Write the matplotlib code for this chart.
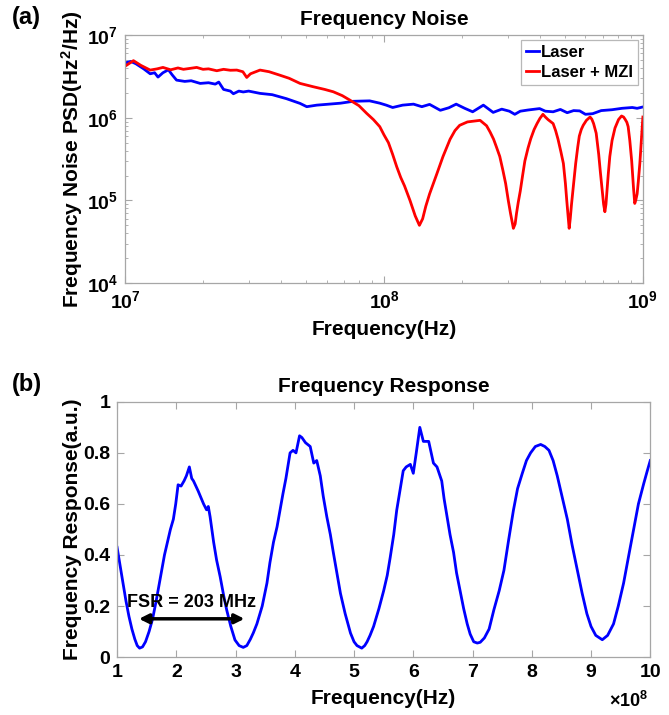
import matplotlib
matplotlib.use("Agg")
import matplotlib.pyplot as plt
from matplotlib.ticker import LogLocator, FixedLocator

plt.rcParams['font.family'] = ['Liberation Sans', 'DejaVu Sans']
plt.rcParams['font.weight'] = 'bold'
plt.rcParams['mathtext.fontset'] = 'custom'
plt.rcParams['mathtext.rm'] = 'Liberation Sans:bold'
plt.rcParams['mathtext.bf'] = 'Liberation Sans:bold'
plt.rcParams['mathtext.it'] = 'Liberation Sans:bold'
plt.rcParams['mathtext.default'] = 'bf'

# ---------------- (a) Frequency noise ----------------
laser_f = [1.0e7, 1.05e7, 1.1e7, 1.18e7, 1.25e7, 1.3e7, 1.34e7, 1.4e7, 1.47e7, 1.52e7,
           1.58e7, 1.7e7, 1.8e7, 1.95e7, 2.1e7, 2.23e7, 2.3e7, 2.4e7, 2.55e7, 2.62e7,
           2.75e7, 2.86e7, 3.0e7, 3.32e7, 3.7e7, 4.2e7, 4.74e7, 5.03e7, 5.5e7, 5.97e7,
           6.8e7, 7.6e7, 8.8e7, 9.63e7, 1.02e8, 1.08e8, 1.18e8, 1.3e8, 1.4e8, 1.5e8,
           1.65e8, 1.78e8, 1.9e8, 2.05e8, 2.2e8, 2.42e8, 2.64e8, 2.85e8, 3.05e8, 3.2e8,
           3.36e8, 3.6e8, 3.99e8, 4.2e8, 4.5e8, 4.8e8, 5.1e8, 5.4e8, 5.7e8, 6.0e8,
           6.4e8, 6.9e8, 7.6e8, 8.3e8, 9.1e8, 9.5e8, 1.0e9]
laser_psd = [4.6e6, 4.8e6, 4.5e6, 3.9e6, 3.4e6, 3.5e6, 3.1e6, 3.5e6, 3.8e6, 3.3e6,
             2.85e6, 2.75e6, 2.8e6, 2.6e6, 2.65e6, 2.55e6, 2.7e6, 2.2e6, 2.1e6, 1.95e6,
             2.1e6, 2.05e6, 2.1e6, 1.97e6, 1.9e6, 1.7e6, 1.49e6, 1.36e6, 1.42e6, 1.45e6,
             1.5e6, 1.58e6, 1.6e6, 1.5e6, 1.42e6, 1.33e6, 1.42e6, 1.46e6, 1.36e6, 1.45e6,
             1.23e6, 1.32e6, 1.46e6, 1.3e6, 1.18e6, 1.42e6, 1.16e6, 1.27e6, 1.2e6, 1.1e6,
             1.2e6, 1.24e6, 1.29e6, 1.2e6, 1.18e6, 1.26e6, 1.15e6, 1.22e6, 1.21e6, 1.1e6,
             1.12e6, 1.22e6, 1.25e6, 1.3e6, 1.33e6, 1.3e6, 1.35e6]

mzi_f = [1.0e7, 1.077e7, 1.15e7, 1.25e7, 1.33e7, 1.4e7, 1.5e7, 1.6e7, 1.68e7, 1.78e7,
         1.89e7, 2.0e7, 2.1e7, 2.26e7, 2.4e7, 2.55e7, 2.7e7, 2.85e7, 2.95e7, 3.05e7,
         3.32e7, 3.6e7, 3.96e7, 4.3e7, 4.74e7, 5.33e7, 5.9e7, 6.37e7, 6.9e7, 7.39e7,
         8.0e7, 8.57e7, 9.1e7, 9.63e7, 1.0e8, 1.04e8, 1.08e8, 1.12e8, 1.16e8, 1.2e8,
         1.26e8, 1.32e8, 1.37e8, 1.41e8, 1.45e8, 1.5e8, 1.6e8, 1.69e8, 1.8e8, 1.88e8,
         1.96e8, 2.1e8, 2.35e8, 2.49e8, 2.57e8, 2.65e8, 2.72e8, 2.8e8, 2.88e8, 2.95e8,
         3.02e8, 3.08e8, 3.16e8, 3.21e8, 3.25e8, 3.3e8, 3.36e8, 3.43e8, 3.5e8, 3.6e8,
         3.69e8, 3.8e8, 3.9e8, 4.0e8, 4.11e8, 4.2e8, 4.3e8, 4.5e8, 4.6e8, 4.7e8,
         4.82e8, 4.93e8, 5.02e8, 5.08e8, 5.14e8, 5.19e8, 5.24e8, 5.3e8, 5.4e8, 5.5e8,
         5.6e8, 5.68e8, 5.78e8, 5.88e8, 6.05e8, 6.25e8, 6.35e8, 6.45e8, 6.6e8, 6.75e8,
         6.85e8, 6.95e8, 7.05e8, 7.13e8, 7.2e8, 7.25e8, 7.35e8, 7.45e8, 7.6e8, 7.8e8,
         8.05e8, 8.27e8, 8.42e8, 8.55e8, 8.67e8, 8.77e8, 8.9e8, 9.05e8, 9.2e8, 9.3e8,
         9.38e8, 9.5e8, 9.6e8, 9.73e8, 9.87e8, 1.0e9]
mzi_psd = [4.2e6, 4.9e6, 4.3e6, 3.77e6, 3.9e6, 4.06e6, 3.8e6, 4.0e6, 3.85e6, 3.95e6,
           4.06e6, 3.85e6, 3.9e6, 3.7e6, 3.85e6, 3.75e6, 3.77e6, 3.6e6, 3.07e6, 3.4e6,
           3.77e6, 3.6e6, 3.27e6, 3.0e6, 2.6e6, 2.37e6, 2.2e6, 2.06e6, 1.85e6, 1.63e6,
           1.4e6, 1.13e6, 9.5e5, 7.8e5, 6.2e5, 5.0e5, 3.6e5, 2.55e5, 1.9e5, 1.5e5,
           1.0e5, 6.5e4, 5.0e4, 6.0e4, 8.5e4, 1.2e5, 2.1e5, 3.4e5, 5.5e5, 7.0e5,
           8.1e5, 8.9e5, 9.3e5, 8.0e5, 6.7e5, 5.5e5, 4.4e5, 3.4e5, 2.3e5, 1.6e5,
           1.0e5, 7.0e4, 4.6e4, 5.2e4, 7.0e4, 9.5e4, 1.3e5, 2.0e5, 3.0e5, 4.3e5,
           5.6e5, 7.2e5, 8.5e5, 9.8e5, 1.1e6, 1.02e6, 9.5e5, 8.5e5, 7.0e5, 5.5e5,
           3.9e5, 2.8e5, 1.6e5, 1.0e5, 6.5e4, 4.6e4, 6.0e4, 9.0e4, 1.6e5, 2.8e5,
           4.4e5, 6.0e5, 7.2e5, 8.1e5, 9.3e5, 1.02e6, 9.6e5, 8.5e5, 6.5e5, 3.6e5,
           2.2e5, 1.4e5, 9.0e4, 7.3e4, 9.0e4, 1.2e5, 2.1e5, 3.4e5, 5.3e5, 7.5e5,
           9.5e5, 1.05e6, 1.02e6, 9.5e5, 8.8e5, 7.8e5, 5.3e5, 3.0e5, 1.4e5, 9.2e4,
           1.0e5, 1.2e5, 1.7e5, 2.8e5, 5.5e5, 1.02e6]

# ---------------- (b) Frequency response ----------------
resp_f = [1.0, 1.05, 1.1, 1.15, 1.2, 1.25, 1.3, 1.34, 1.38, 1.43,
          1.48, 1.54, 1.6, 1.66, 1.73, 1.8, 1.86, 1.9, 1.95, 1.99,
          2.03, 2.08, 2.13, 2.17, 2.22, 2.26, 2.29, 2.37, 2.46, 2.51,
          2.54, 2.57, 2.6, 2.63, 2.68, 2.74, 2.8, 2.85, 2.92, 2.99,
          3.06, 3.13, 3.19, 3.25, 3.3, 3.36, 3.45, 3.53, 3.58, 3.64,
          3.7, 3.75, 3.8, 3.85, 3.9, 3.92, 3.97, 4.02, 4.08, 4.12,
          4.18, 4.26, 4.32, 4.37, 4.43, 4.48, 4.54, 4.6, 4.65, 4.71,
          4.77, 4.85, 4.94, 5.0, 5.05, 5.13, 5.18, 5.22, 5.27, 5.33,
          5.42, 5.50, 5.56, 5.61, 5.67, 5.72, 5.78, 5.83, 5.88, 5.95,
          6.0, 6.05, 6.11, 6.17, 6.26, 6.34, 6.40, 6.48, 6.52, 6.57,
          6.62, 6.68, 6.73, 6.79, 6.85, 6.91, 6.96, 7.02, 7.08, 7.13,
          7.2, 7.28, 7.36, 7.45, 7.53, 7.61, 7.69, 7.76, 7.84, 7.91,
          7.98, 8.06, 8.15, 8.22, 8.29, 8.36, 8.43, 8.51, 8.60, 8.68,
          8.77, 8.85, 8.93, 9.0, 9.08, 9.19, 9.28, 9.38, 9.46, 9.55,
          9.63, 9.72, 9.8, 9.89, 9.95, 10.0]
resp_val = [0.43, 0.36, 0.29, 0.22, 0.16, 0.11, 0.07, 0.045, 0.035, 0.04,
            0.06, 0.10, 0.15, 0.22, 0.31, 0.40, 0.46, 0.50, 0.54, 0.60,
            0.675, 0.67, 0.69, 0.71, 0.745, 0.70, 0.69, 0.65, 0.60, 0.577,
            0.59, 0.55, 0.50, 0.45, 0.38, 0.315, 0.24, 0.185, 0.12, 0.067,
            0.045, 0.038, 0.045, 0.07, 0.095, 0.13, 0.20, 0.29, 0.37, 0.45,
            0.51, 0.575, 0.64, 0.70, 0.77, 0.80, 0.81, 0.80, 0.867, 0.86,
            0.84, 0.825, 0.76, 0.77, 0.71, 0.63, 0.55, 0.48, 0.41, 0.33,
            0.25, 0.17, 0.094, 0.06, 0.045, 0.035, 0.045, 0.06, 0.085, 0.12,
            0.19, 0.26, 0.32, 0.39, 0.48, 0.575, 0.66, 0.73, 0.745, 0.755,
            0.72, 0.80, 0.90, 0.845, 0.845, 0.76, 0.745, 0.69, 0.62, 0.55,
            0.48, 0.41, 0.33, 0.26, 0.19, 0.13, 0.09, 0.06, 0.055, 0.058,
            0.075, 0.11, 0.185, 0.26, 0.34, 0.46, 0.575, 0.66, 0.72, 0.77,
            0.80, 0.825, 0.833, 0.825, 0.81, 0.77, 0.71, 0.63, 0.54, 0.44,
            0.34, 0.25, 0.17, 0.12, 0.085, 0.068, 0.085, 0.13, 0.20, 0.29,
            0.39, 0.50, 0.60, 0.68, 0.73, 0.77]

fsr_start, fsr_end, fsr_level = 1.37, 3.15, 0.15
fsr_label = "FSR = 203 MHz"

frame_col = '#a6a6a6'
fig = plt.figure(figsize=(6.69, 7.15), dpi=100)

def style(ax):
    for s in ax.spines.values():
        s.set_color(frame_col)
        s.set_linewidth(0.9)
    ax.tick_params(which='both', direction='in', top=True, right=True, color=frame_col,
                   labelsize=14, pad=5)
    ax.tick_params(which='major', length=5)
    ax.tick_params(which='minor', length=2.5)
    for lab in ax.get_xticklabels() + ax.get_yticklabels():
        lab.set_fontweight('bold')

# Top axes
ax1 = fig.add_axes([0.187, 0.604, 0.774, 0.347])
ax1.plot(laser_f, laser_psd, color='#0000ff', lw=2.0, label='Laser')
ax1.plot(mzi_f, mzi_psd, color='#ff0000', lw=2.0, label='Laser + MZI')
ax1.set_xscale('log')
ax1.set_yscale('log')
ax1.set_xlim(1e7, 1e9)
ax1.set_ylim(1e4, 1e7)
ax1.xaxis.set_major_locator(LogLocator(base=10, numticks=10))
ax1.yaxis.set_major_locator(LogLocator(base=10, numticks=10))
style(ax1)
ax1.set_title('Frequency Noise', fontsize=15, fontweight='bold', pad=7)
ax1.set_xlabel('Frequency(Hz)', fontsize=15, fontweight='bold', labelpad=6)
ax1.set_ylabel('Frequency Noise PSD(Hz$^2$/Hz)', fontsize=15, fontweight='bold', labelpad=1)
leg = ax1.legend(loc='upper right', fontsize=12, frameon=True, fancybox=False,
                 handlelength=0.8, handletextpad=0.1, borderpad=0.3, labelspacing=0.3,
                 borderaxespad=0.3)
leg.get_frame().set_edgecolor(frame_col)
leg.get_frame().set_linewidth(0.9)
for t in leg.get_texts():
    t.set_fontweight('bold')

# Bottom axes
ax2 = fig.add_axes([0.175, 0.081, 0.797, 0.357])
ax2.plot(resp_f, resp_val, color='#0000ff', lw=2.0)
ax2.set_xlim(1, 10)
ax2.set_ylim(0, 1)
ax2.xaxis.set_major_locator(FixedLocator(list(range(1, 11))))
ax2.set_yticks([0, 0.2, 0.4, 0.6, 0.8, 1])
ax2.set_yticklabels(['0', '0.2', '0.4', '0.6', '0.8', '1'])
style(ax2)
ax2.set_title('Frequency Response', fontsize=15, fontweight='bold', pad=7)
ax2.set_xlabel('Frequency(Hz)', fontsize=15, fontweight='bold', labelpad=6)
ax2.set_ylabel('Frequency Response(a.u.)', fontsize=15, fontweight='bold', labelpad=1)
ax2.annotate('', xy=(fsr_start, fsr_level), xytext=(fsr_end, fsr_level),
             arrowprops=dict(arrowstyle='<|-|>', color='black', lw=2.5,
                             mutation_scale=14, shrinkA=0, shrinkB=0))
ax2.text((fsr_start + fsr_end) / 2, fsr_level + 0.03, fsr_label, ha='center', va='bottom',
         fontsize=13, fontweight='bold')

fig.text(0.94, 0.006, r'$\times$10$^8$', ha='center', va='bottom', fontsize=13,
         fontweight='bold')
fig.text(0.018, 0.975, '(a)', fontsize=17, fontweight='bold', va='center')
fig.text(0.018, 0.462, '(b)', fontsize=17, fontweight='bold', va='center')

fig.savefig('out.png', dpi=100)
